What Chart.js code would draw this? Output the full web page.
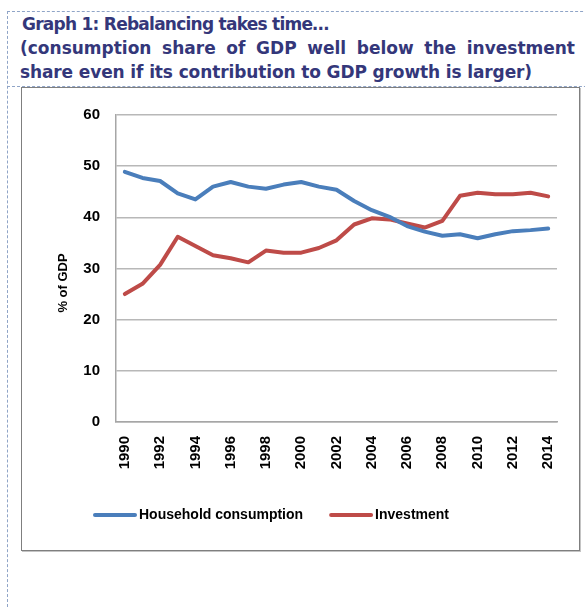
<!DOCTYPE html>
<html>
<head>
<meta charset="utf-8">
<script src="https://cdn.jsdelivr.net/npm/chart.js@4/dist/chart.umd.min.js"></script>
<style>
  html, body { margin: 0; padding: 0; background: #fff; width: 585px; height: 607px; overflow: hidden; }
  .dash-top { position: absolute; left: 7px; top: 11px; width: 600px; height: 600px; border-top: 1px dashed #8fa4c7; border-left: 1px dashed #8fa4c7; }
  .dash-mid { position: absolute; left: 7px; top: 86px; width: 600px; height: 0; border-top: 1px dashed #8fa4c7; }
  .frame { position: absolute; left: 21px; top: 87px; width: 557px; height: 462px; border: 1px solid #7f7f7f; box-shadow: 1px 1px 0 #c4c4c4; }
  .t { position: absolute; font-family: "DejaVu Sans", sans-serif; font-weight: bold; font-size: 17px; line-height: 24px; color: #34377a; white-space: nowrap; }
  .t2 { white-space: normal; text-align: justify; text-align-last: justify; }
  canvas { position: absolute; left: 0; top: 0; }
</style>
</head>
<body>
<div class="dash-top"></div>
<div class="dash-mid"></div>
<div class="frame"></div>
<div class="t" style="left:22px; top:12px; letter-spacing:-0.75px;">Graph 1: Rebalancing takes time…</div>
<div class="t t2" style="left:20px; top:36px; width:555px;">(consumption share of GDP well below the investment</div>
<div class="t" style="left:20px; top:60px; letter-spacing:-0.12px;">share even if its contribution to GDP growth is larger)</div>
<canvas id="c" width="585" height="607"></canvas>
<script>
const years = ['1990','1991','1992','1993','1994','1995','1996','1997','1998','1999','2000','2001','2002','2003','2004','2005','2006','2007','2008','2009','2010','2011','2012','2013','2014'];
const household = [48.9, 47.7, 47.1, 44.7, 43.5, 46.0, 46.9, 46.0, 45.6, 46.4, 46.9, 46.0, 45.4, 43.2, 41.4, 40.1, 38.3, 37.2, 36.4, 36.7, 35.9, 36.7, 37.3, 37.5, 37.8];
const investment = [25.0, 27.0, 30.7, 36.2, 34.4, 32.6, 32.0, 31.2, 33.5, 33.1, 33.1, 34.0, 35.5, 38.6, 39.8, 39.6, 38.8, 38.0, 39.3, 44.2, 44.8, 44.5, 44.5, 44.8, 44.1];
const yTicks = [0, 10, 20, 30, 40, 50, 60];
const seriesNames = ['Household consumption', 'Investment'];
const yTitle = '% of GDP';

const tickFont = { family: '"Liberation Sans", Arial, sans-serif', size: 15, weight: 'bold' };

const legendPlugin = {
  id: 'customLegend',
  afterDraw(chart) {
    const ctx = chart.ctx;
    ctx.save();
    ctx.font = 'bold 14px "Liberation Sans", Arial, sans-serif';
    ctx.textBaseline = 'middle';
    ctx.textAlign = 'left';
    let x = 95;
    const y = 515;
    chart.data.datasets.forEach((ds) => {
      ctx.strokeStyle = ds.borderColor;
      ctx.lineWidth = 4;
      ctx.lineCap = 'round';
      ctx.beginPath();
      ctx.moveTo(x, y);
      ctx.lineTo(x + 40, y);
      ctx.stroke();
      ctx.fillStyle = '#000';
      ctx.fillText(ds.label, x + 44, y);
      x += 44 + ctx.measureText(ds.label).width + 28;
    });
    ctx.restore();
  }
};

new Chart(document.getElementById('c'), {
  type: 'line',
  data: {
    labels: years,
    datasets: [
      { label: seriesNames[0], data: household, borderColor: '#4a7ebb', backgroundColor: '#4a7ebb', borderWidth: 4, pointRadius: 0, tension: 0, borderCapStyle: 'round', borderJoinStyle: 'round' },
      { label: seriesNames[1], data: investment, borderColor: '#be4b48', backgroundColor: '#be4b48', borderWidth: 4, pointRadius: 0, tension: 0, borderCapStyle: 'round', borderJoinStyle: 'round' }
    ]
  },
  options: {
    responsive: false,
    devicePixelRatio: 1,
    animation: false,
    layout: { padding: { left: 50, top: 115, right: 28, bottom: 0 } },
    plugins: { legend: { display: false }, tooltip: { enabled: false } },
    scales: {
      x: {
        type: 'category',
        offset: true,
        grid: { display: false, drawTicks: false },
        border: { display: true, color: '#a6a6a6', width: 1.5 },
        ticks: {
          autoSkip: false, minRotation: 90, maxRotation: 90, padding: 14,
          color: '#000', font: tickFont,
          callback: function (v, i) { return i % 2 === 0 ? this.getLabelForValue(v) : ''; }
        },
        afterFit(s) { s.height = 185; }
      },
      y: {
        min: 0, max: 60,
        afterBuildTicks(s) { s.ticks = yTicks.map(v => ({ value: v })); },
        grid: { color: '#b8b8b8', lineWidth: 1.5, drawTicks: false },
        border: { display: true, color: '#a6a6a6', width: 1.5 },
        ticks: { padding: 16, color: '#000', font: tickFont, callback: v => String(v) },
        title: { display: true, text: yTitle + '        ', color: '#000', padding: { top: 6, bottom: 0 }, font: { family: '"Liberation Sans", Arial, sans-serif', size: 13, weight: 'bold' } },
        afterFit(s) { s.width = 66; }
      }
    }
  },
  plugins: [legendPlugin]
});
</script>
</body>
</html>
